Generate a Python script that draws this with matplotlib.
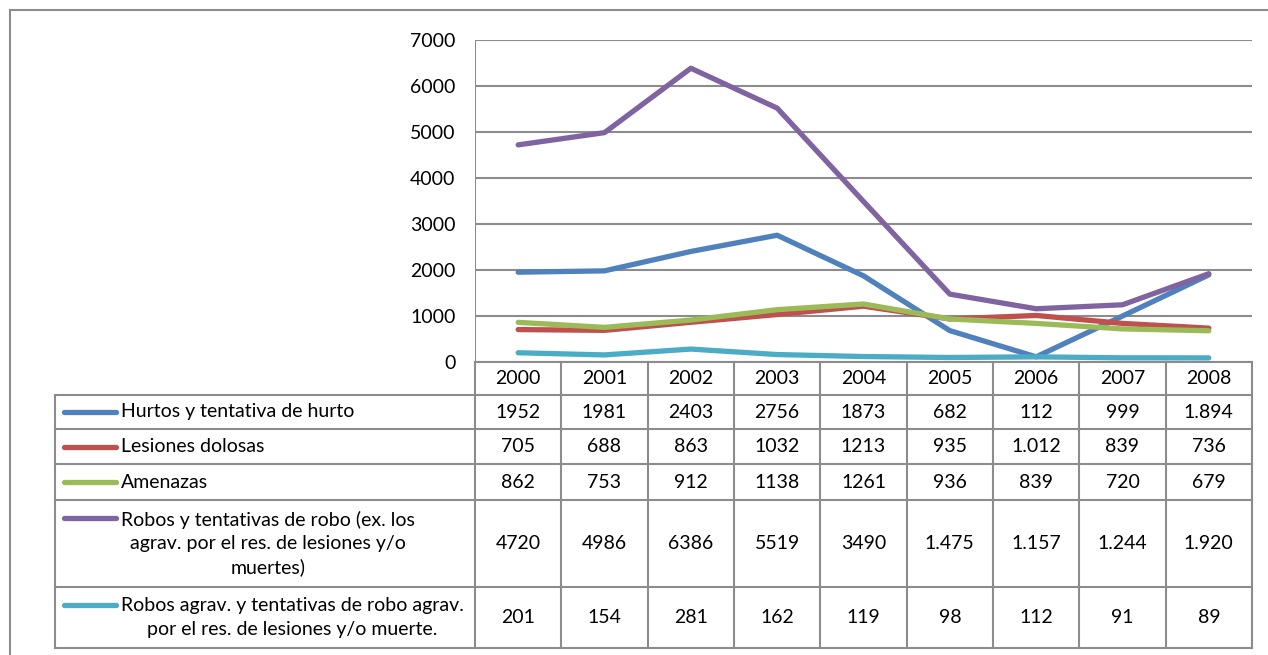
import matplotlib.pyplot as plt
import matplotlib.transforms as mtransforms

years = ["2000", "2001", "2002", "2003", "2004", "2005", "2006", "2007", "2008"]

labels = [
    "Hurtos y tentativa de hurto",
    "Lesiones dolosas",
    "Amenazas",
    "Robos y tentativas de robo (ex. los\nagrav. por el res. de lesiones y/o\nmuertes)",
    "Robos agrav. y tentativas de robo agrav.\npor el res. de lesiones y/o muerte.",
]

hurtos = ["1952", "1981", "2403", "2756", "1873", "682", "112", "999", "1.894"]
lesiones = ["705", "688", "863", "1032", "1213", "935", "1.012", "839", "736"]
amenazas = ["862", "753", "912", "1138", "1261", "936", "839", "720", "679"]
robos = ["4720", "4986", "6386", "5519", "3490", "1.475", "1.157", "1.244", "1.920"]
robos_agrav = ["201", "154", "281", "162", "119", "98", "112", "91", "89"]

series = [hurtos, lesiones, amenazas, robos, robos_agrav]
colors = ["#4F81BD", "#C0504D", "#9BBB59", "#8064A2", "#4BACC6"]

W, H = 1268, 655
plt.rcParams['font.family'] = ['Lato', 'DejaVu Sans']
FS = 14
GRID = "#8C8C8C"

fig = plt.figure(figsize=(W / 100, H / 100), dpi=100)

# plot area in pixels
L, R, T, B = 475, 1252, 40, 362
ax = fig.add_axes([L / W, 1 - B / H, (R - L) / W, (B - T) / H])
ax.set_xlim(-0.5, len(years) - 0.5)
ax.set_ylim(0, 7000)
for s in ax.spines.values():
    s.set_visible(False)
ax.set_xticks([])
ax.set_yticks(range(0, 7001, 1000))
ax.tick_params(axis='y', length=0, pad=14, labelsize=FS)
ax.yaxis.grid(True, color=GRID, linewidth=1.5)
ax.set_axisbelow(True)
ax.axvline(-0.5, color=GRID, linewidth=1.5)

x = list(range(len(years)))
for vals, c in zip(series, colors):
    y = [float(v.replace(".", "")) for v in vals]
    ax.plot(x, y, color=c, linewidth=3.8, solid_capstyle='round', solid_joinstyle='round')


def fy(py):
    return 1 - py / H


def fx(px):
    return px / W


# x in data units, y in figure fraction
blend = mtransforms.blended_transform_factory(ax.transData, fig.transFigure)

row_edges = [362, 395, 429, 464, 500, 587, 648]
LEG_L = 55

# header years
for i, yr in enumerate(years):
    fig.text(i, fy((row_edges[0] + row_edges[1]) / 2), yr, transform=blend, fontsize=FS,
             ha='center', va='center')

# horizontal lines
for k, yy in enumerate(row_edges):
    x0 = L if k == 0 else LEG_L
    fig.add_artist(plt.Line2D([fx(x0), fx(R)], [fy(yy), fy(yy)], color=GRID, linewidth=1.5,
                              transform=fig.transFigure))
# vertical lines
for j in range(len(years) + 1):
    fig.add_artist(plt.Line2D([j - 0.5, j - 0.5], [fy(row_edges[0]), fy(row_edges[-1])],
                              color=GRID, linewidth=1.5, transform=blend))
fig.add_artist(plt.Line2D([fx(LEG_L), fx(LEG_L)], [fy(row_edges[1]), fy(row_edges[-1])],
                          color=GRID, linewidth=1.5, transform=fig.transFigure))

# rows
line_h = 26
for r, (lab, vals, c) in enumerate(zip(labels, series, colors)):
    top, bot = row_edges[r + 1], row_edges[r + 2]
    yc = (top + bot) / 2
    nlines = lab.count("\n") + 1
    first_y = yc - (nlines - 1) * line_h / 2
    fig.text(fx(121), fy(yc), lab, fontsize=FS, ha='left', va='center',
             multialignment='center', linespacing=1.45)
    fig.add_artist(plt.Line2D([fx(64), fx(116)], [fy(first_y), fy(first_y)], color=c,
                              linewidth=3.8, solid_capstyle='round', transform=fig.transFigure))
    for i, v in enumerate(vals):
        fig.text(i, fy(yc), v, transform=blend, fontsize=FS, ha='center', va='center')

# outer frame
fig.add_artist(plt.Line2D([fx(10), fx(W)], [fy(10), fy(10)], color=GRID, linewidth=1.5,
                          transform=fig.transFigure))
fig.add_artist(plt.Line2D([fx(10), fx(10)], [fy(10), fy(H)], color=GRID, linewidth=1.5,
                          transform=fig.transFigure))

fig.savefig("out.png", dpi=100)
